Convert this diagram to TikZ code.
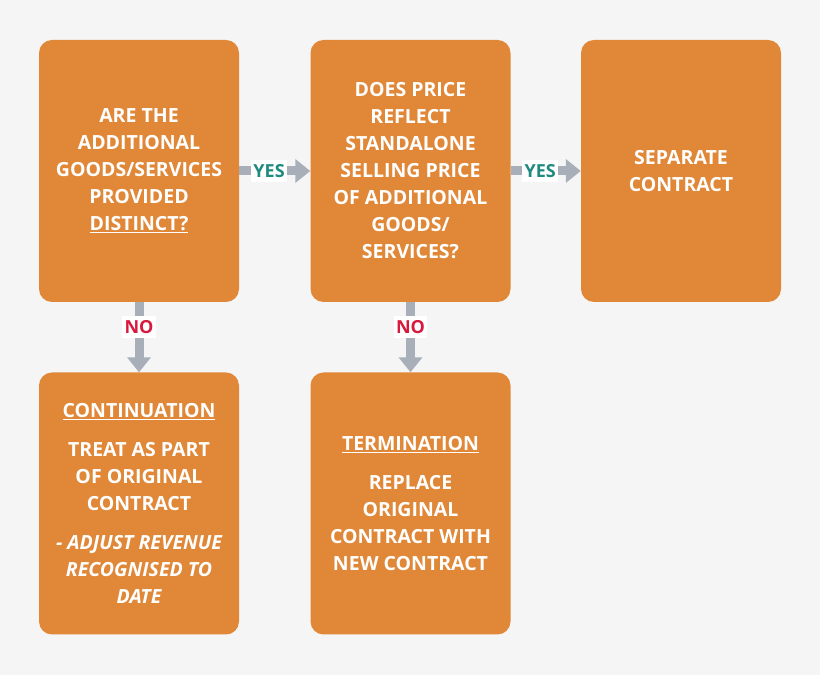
\documentclass[tikz,border=0pt]{standalone}
\usepackage{fontspec}
\setmainfont{Open Sans}
\usetikzlibrary{arrows.meta}
\definecolor{bgc}{HTML}{F5F5F5}
\definecolor{boxc}{HTML}{E08838}
\definecolor{arrc}{HTML}{A8AFB9}
\definecolor{yesc}{HTML}{1F8A80}
\definecolor{noc}{HTML}{D8193E}
\tikzset{
  x=1pt,y=1pt,
  box/.style={fill=boxc,rounded corners=13pt,minimum width=200pt,minimum height=262pt,
    align=center,text=white,font=\fontsize{19.5}{27}\selectfont\bfseries,inner sep=0pt},
  flow/.style={draw=arrc,line width=9pt,-{Triangle[width=23pt,length=15pt]}},
  lab/.style={fill=white,font=\fontsize{18}{20}\selectfont\bfseries,inner sep=2.5pt,minimum height=22pt}
}
\begin{document}
\begin{tikzpicture}
\fill[bgc] (0,0) rectangle (820,675);
\useasboundingbox (0,0) rectangle (820,675);
\node[box] (b1) at (139,504) {ARE THE\\ADDITIONAL\\GOODS/SERVICES\\PROVIDED\\\underline{DISTINCT?}};
\node[box] (b2) at (410.5,504) {DOES PRICE\\REFLECT\\STANDALONE\\SELLING PRICE\\OF ADDITIONAL\\GOODS/\\SERVICES?};
\node[box] (b3) at (681,504) {SEPARATE\\CONTRACT};
\node[box] (b4) at (139,171.5) {\underline{CONTINUATION}\\[12pt]TREAT AS PART\\OF ORIGINAL\\CONTRACT\\[12pt]\itshape - ADJUST REVENUE\\\itshape RECOGNISED TO\\\itshape DATE};
\node[box] (b5) at (410.5,171.5) {\underline{TERMINATION}\\[12pt]REPLACE\\ORIGINAL\\CONTRACT WITH\\NEW CONTRACT};
\draw[flow] (b1.east) -- (b2.west) node[lab,text=yesc,pos=0.42] (y1) {YES};
\draw[flow] (b2.east) -- (b3.west) node[lab,text=yesc,pos=0.42] (y2) {YES};
\draw[flow] (b1.south) -- (b4.north) node[lab,text=noc,pos=0.35] (n1) {NO};
\draw[flow] (b2.south) -- (b5.north) node[lab,text=noc,pos=0.35] (n2) {NO};
\end{tikzpicture}
\end{document}
